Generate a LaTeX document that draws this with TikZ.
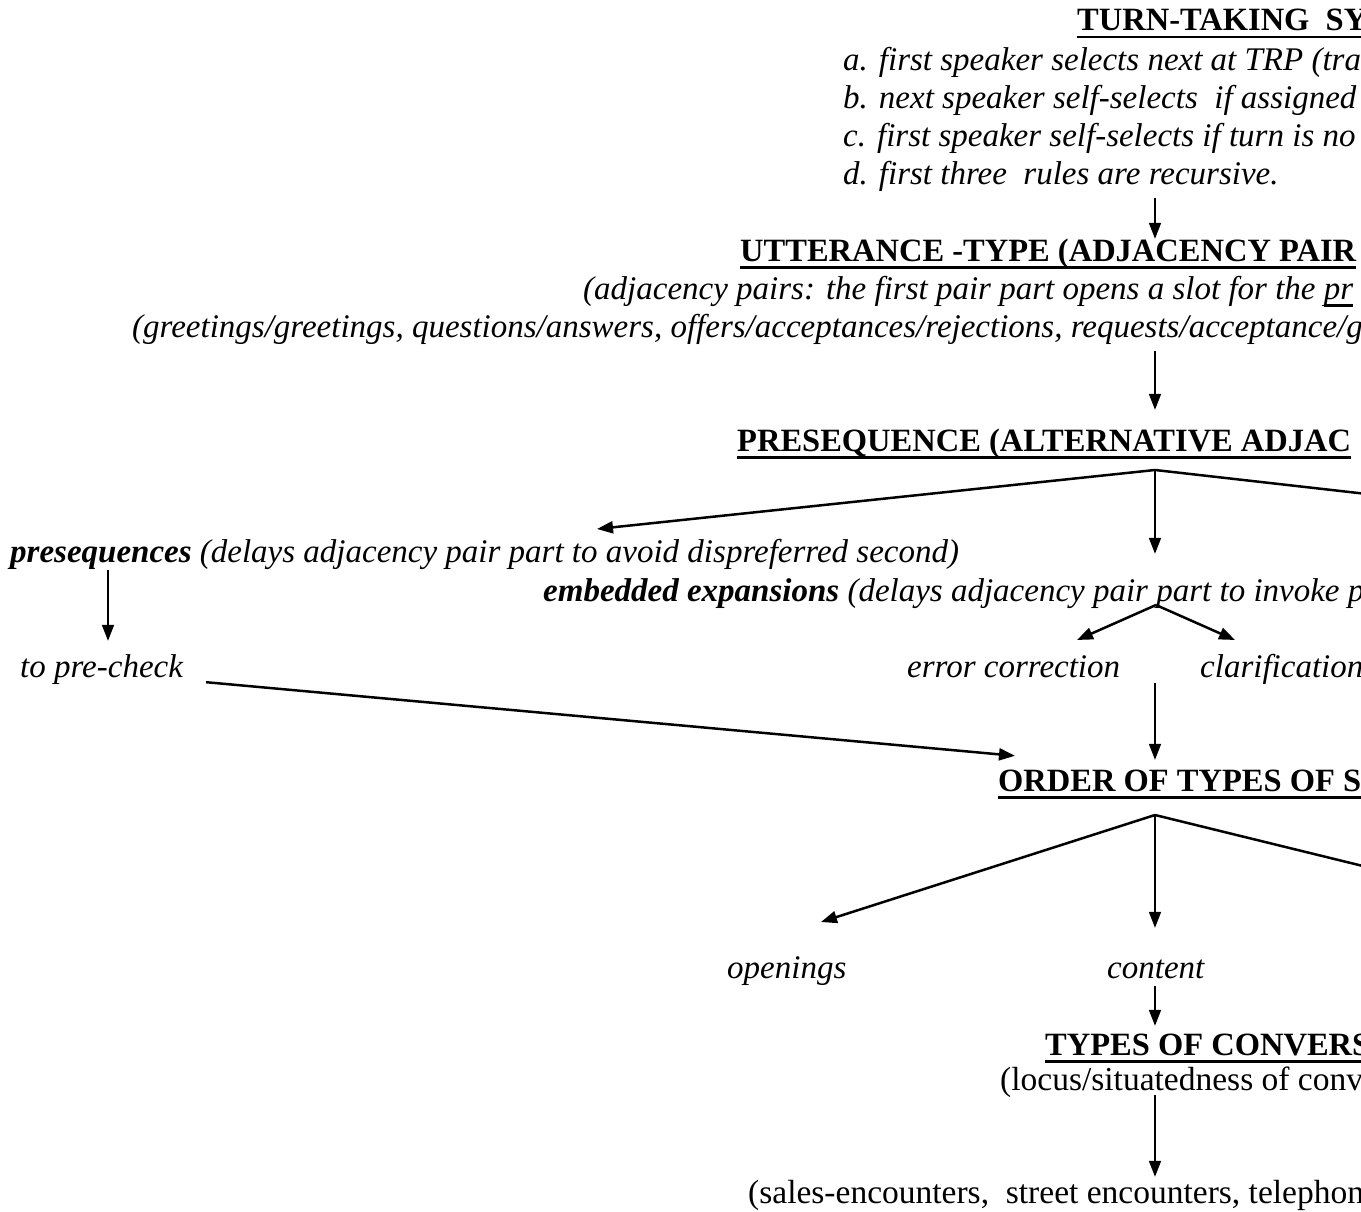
\documentclass[tikz,border=0pt]{standalone}
\usepackage{fontspec}
\setmainfont{Liberation Serif}
\usetikzlibrary{arrows.meta,positioning,calc}
% underline with a fixed depth and weight
\newcommand{\ulbar}[1]{\begingroup\setbox0=\hbox{#1}\rlap{\rule[-7.5pt]{\wd0}{2.6pt}}\box0\endgroup}

\begin{document}
\begin{tikzpicture}[x=1pt, y=-1pt,
    headline/.style={font=\fontsize{32.5}{38}\selectfont\bfseries, inner sep=0pt, anchor=base west, text height=22pt, text depth=9pt},
    ruleline/.style={font=\fontsize{33}{38}\selectfont\itshape, inner sep=0pt, anchor=base west, text height=24pt, text depth=8pt},
    romanline/.style={font=\fontsize{33.5}{38}\selectfont, inner sep=0pt, anchor=base west, text height=22pt, text depth=8pt},
    arr/.style={-{Triangle[length=16pt,width=12pt]}, line width=1.7pt},
    branch/.style={line width=2.5pt},
  ]
  \useasboundingbox (0,0) rectangle (1361,1212);
  \clip (0,0) rectangle (1361,1212);
  \coordinate (axis) at (1155,0);

  % Turn-taking system
  \node[headline] (turn) at (1077,31) {\ulbar{TURN-TAKING\ \ SY}};
  \node[ruleline] (rulea) at (843,71) {a. first speaker selects next at TRP (tra};
  \node[ruleline] (ruleb) at (843,109) {b. next speaker self-selects\ \ if assigned};
  \node[ruleline] (rulec) at (843,147) {c. first speaker self-selects if turn is no};
  \node[ruleline] (ruled) at (843,185) {d. first three\ \ rules are recursive.};

  % Utterance type
  \node[headline] (utter) at (740,261) {\ulbar{UTTERANCE -TYPE (ADJACENCY PAIR}};
  \node[ruleline] (adjpair) at (583,299) {(adjacency pairs: the first pair part opens a slot for the \ulbar{pr}};
  \node[ruleline] (greet) at (132,337) {(greetings/greetings, questions/answers, offers/acceptances/rejections, requests/acceptance/g};
  \draw[arr, shorten <=5pt] (ruled.south -| axis) -- (utter.north -| axis);

  % Presequence
  \node[headline] (preseq) at (737,451) {\ulbar{PRESEQUENCE (ALTERNATIVE ADJAC}};
  \draw[arr, shorten <=6pt, shorten >=19pt] (greet.south -| axis) -- (preseq.north -| axis);

  \node[ruleline] (pres) at (10,562) {\textbf{presequences} (delays adjacency pair part to avoid dispreferred second)};
  \node[ruleline] (embed) at (543,601) {\textbf{embedded expansions} (delays adjacency pair part to invoke p};
  \coordinate (preapex) at (1155,470);
  \coordinate (prestip) at (597,529);
  \coordinate (preright) at (1420,500);
  \draw[arr, branch] (preapex) -- (prestip);
  \draw[arr, shorten >=23pt] (preapex) -- (embed.north -| axis);
  \draw[branch] (preapex) -- (preright);

  % Presequences lead to a pre-check
  \coordinate (presx) at (108,0);
  \node[ruleline] (precheck) at (20,677) {to pre-check};
  \draw[arr, shorten >=12pt] (pres.south -| presx) -- (precheck.north -| presx);

  % Embedded expansions
  \node[ruleline] (errcorr) at (907,677) {error correction};
  \node[ruleline] (clarif) at (1200,677) {clarification};
  \coordinate (embapex) at (1156,605);
  \coordinate (errtip) at (1077,640);
  \coordinate (clartip) at (1235,640);
  \draw[arr, branch] (embapex) -- (errtip);
  \draw[arr, branch] (embapex) -- (clartip);

  % Order of types
  \node[headline] (order) at (998,791) {\ulbar{ORDER OF TYPES OF S}};
  \draw[arr, shorten <=-2pt, shorten >=9pt] (errcorr.south -| axis) -- (order.north -| axis);
  \draw[arr, branch] ([shift={(23,-3)}]precheck.south east) -- ([shift={(17,-13)}]order.north west);

  \node[ruleline] (openings) at (727,978) {openings};
  \node[ruleline] (content) at (1107,978) {content};
  \coordinate (ordapex) at (1155,815);
  \coordinate (opentip) at (821,922);
  \coordinate (ordright) at (1420,880);
  \draw[arr, branch] (ordapex) -- (opentip);
  \draw[arr, shorten >=26pt] (ordapex) -- (content.north -| axis);
  \draw[branch] (ordapex) -- (ordright);

  % Types of conversation
  \node[headline] (types) at (1045,1055) {\ulbar{TYPES OF CONVERS}};
  \node[romanline] (locus) at (1000,1090) {(locus/situatedness of conv};
  \node[romanline] (sales) at (748,1203) {(sales-encounters,\ \ street encounters, telephon};
  \draw[arr, shorten >=7pt] (content.south -| axis) -- (types.north -| axis);
  \draw[arr, shorten <=-3pt, shorten >=4pt] (locus.south -| axis) -- (sales.north -| axis);
\end{tikzpicture}
\end{document}
